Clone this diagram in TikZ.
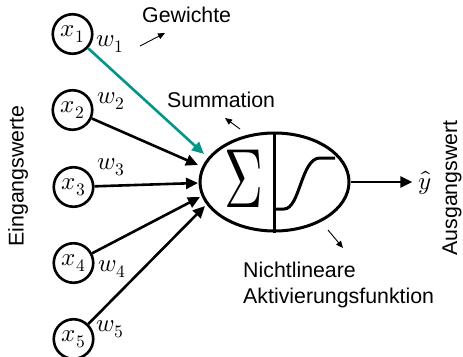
\documentclass[tikz,border=0pt]{standalone}
\usepackage{fontspec}
\usepackage{unicode-math}
\setmainfont{Liberation Sans}
\setmathfont{Latin Modern Math}
\usetikzlibrary{arrows.meta,shapes.geometric}
\definecolor{tealline}{RGB}{0,150,136}
\tikzset{
  mathsize/.style={font=\fontsize{25}{25}\selectfont},
  inp/.style={circle, draw, line width=2.6pt, minimum size=39.5pt, inner sep=0pt, mathsize},
  conn/.style={line width=2.6pt, -{Triangle[length=12pt,width=11pt]}},
  note/.style={line width=0.9pt, -{Triangle[length=7pt,width=6pt]}},
  lbl/.style={inner sep=0pt, anchor=base west},
  wlbl/.style={inner sep=0pt, mathsize},
}
\begin{document}
\begin{tikzpicture}[x=1pt,y=-1pt,font=\fontsize{21.33}{26}\selectfont]
\useasboundingbox (0,0) rectangle (463,356);
% inputs
\node[inp] (x1) at (72.5,34) {$x_1$};
\node[inp] (x2) at (72.5,110) {$x_2$};
\node[inp] (x3) at (73.5,187) {$x_3$};
\node[inp] (x4) at (73.5,263) {$x_4$};
\node[inp] (x5) at (73.5,339) {$x_5$};
% weights
\node[wlbl] (w1) at (110,44) {$w_1$};
\node[wlbl] (w2) at (111,101) {$w_2$};
\node[wlbl] (w3) at (111,167) {$w_3$};
\node[wlbl] (w4) at (112,269) {$w_4$};
\node[wlbl] (w5) at (110,329) {$w_5$};
% neuron
\node[draw, ellipse, line width=3pt, minimum width=149pt, minimum height=98pt, inner sep=0pt] (neuron) at (274.5,182) {};
\draw[line width=3pt] (neuron.north) -- (neuron.south);
\node[inner sep=0pt, xscale=0.64] (sigma) at (243.5,178.5) {\fontsize{84}{84}\selectfont$\Sigma$};
\draw[line width=3pt] (276,209) -- (284,209) .. controls (300,209) and (301,158) .. (320,158) -- (335,158);
% connector targets
\coordinate (t1) at (204,154);
\coordinate (t2) at (198,165);
\coordinate (t3) at (198,183);
\coordinate (t4) at (200,197);
\coordinate (t5) at (205,206);
\draw[conn, tealline] (x1) -- (t1);
\draw[conn] (x2) -- (t2);
\draw[conn] (x3) -- (t3);
\draw[conn] (x4) -- (t4);
\draw[conn] (x5) -- (t5);
% output
\node[mathsize, inner sep=6pt] (yhat) at (425,183) {$\hat{y}$};
\draw[conn] (neuron.east) -- (yhat.west |- neuron.east);
% text labels
\node[lbl] (gew) at (142,23) {Gewichte};
\node[lbl] (sum) at (167,107) {Summation};
\node[lbl] (nl1) at (243,277) {Nichtlineare};
\node[lbl] (nl2) at (243,303) {Aktivierungsfunktion};
\node[rotate=90, inner sep=0pt] (ein) at (18,176) {Eingangswerte};
\node[rotate=90, inner sep=0pt] (aus) at (452,188) {Ausgangswert};
% note arrows
\coordinate (g0) at (140,46); \coordinate (g1) at (165,33);
\coordinate (s0) at (240,129); \coordinate (s1) at (225,118);
\coordinate (n0) at (328,230); \coordinate (n1) at (343,248);
\draw[note] (g0) -- (g1);
\draw[note] (s0) -- (s1);
\draw[note] (n0) -- (n1);
\end{tikzpicture}
\end{document}
